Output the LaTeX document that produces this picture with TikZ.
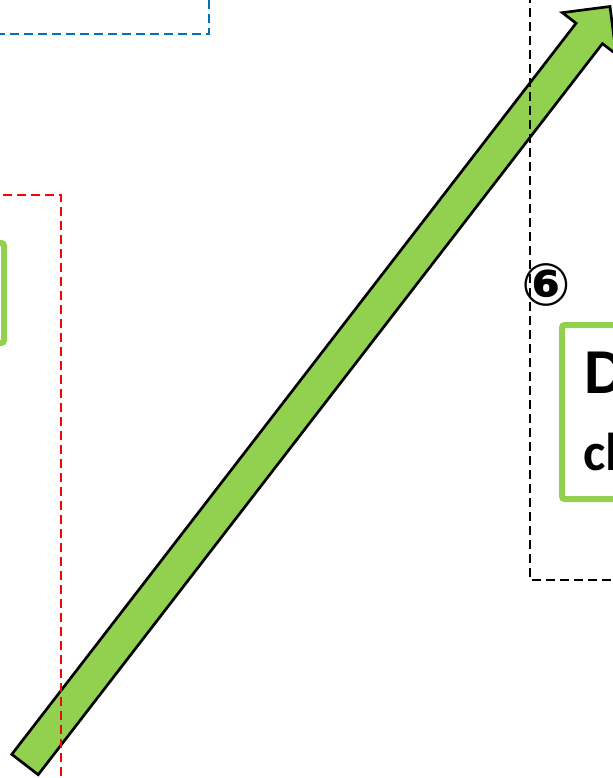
\documentclass[tikz,border=0pt]{standalone}
\usepackage{fontspec}
\setmainfont{Carlito}
\newfontfamily\symfont{DejaVu Sans}
\usetikzlibrary{calc,positioning}
\definecolor{boxGreen}{RGB}{146,208,80}
\definecolor{zoneBlue}{RGB}{0,112,192}
\definecolor{zoneRed}{RGB}{255,0,0}

\begin{document}
\begin{tikzpicture}[
  x=0.75pt, y=-0.75pt,
  zone/.style={draw=#1, line width=2pt, dash pattern=on 6.5pt off 4pt},
  stepbox/.style={draw=boxGreen, line width=4.5pt, rounded corners=2pt},
  flow/.style={draw=black, line width=2pt, fill=boxGreen, line join=miter},
  lbl/.style={font=\bfseries\fontsize{#1}{#1}\selectfont, anchor=base west, inner sep=0pt},
  num/.style={font=\symfont\bfseries\fontsize{44}{44}\selectfont, inner sep=0pt}
]
  \useasboundingbox (0,0) rectangle (613,778);

  % big green arrow
  \coordinate (tail) at (25,764.5);
  \coordinate (tip)  at (610,6.5);
  \coordinate (neck) at ($(tail)!0.9645!(tip)$);
  \draw[flow] ($(tail)!12.5pt!90:(tip)$) -- ($(neck)!12.5pt!90:(tip)$)
    -- ($(neck)!25.5pt!90:(tip)$) -- (tip) -- ($(neck)!25.5pt!-90:(tip)$)
    -- ($(neck)!12.5pt!-90:(tip)$) -- ($(tail)!12.5pt!-90:(tip)$) -- cycle;

  % dashed zones
  \draw[zone=zoneBlue] (-300,-300) rectangle (209,34);
  \draw[zone=zoneRed] (-300,195) rectangle (61,900);
  \draw[zone=black] (530,-300) rectangle (900,580);

  % step boxes
  \draw[stepbox] (-300,243) rectangle (4,343);
  \draw[stepbox] (562,325) rectangle (900,499);
  \node[lbl=48] (dataTitle) at (584,393) {D};
  \node[lbl=40] (dataSub) at (583,470) {cl};

  \node[num] (stepSix) at (546,285) {⑥};
\end{tikzpicture}
\end{document}
